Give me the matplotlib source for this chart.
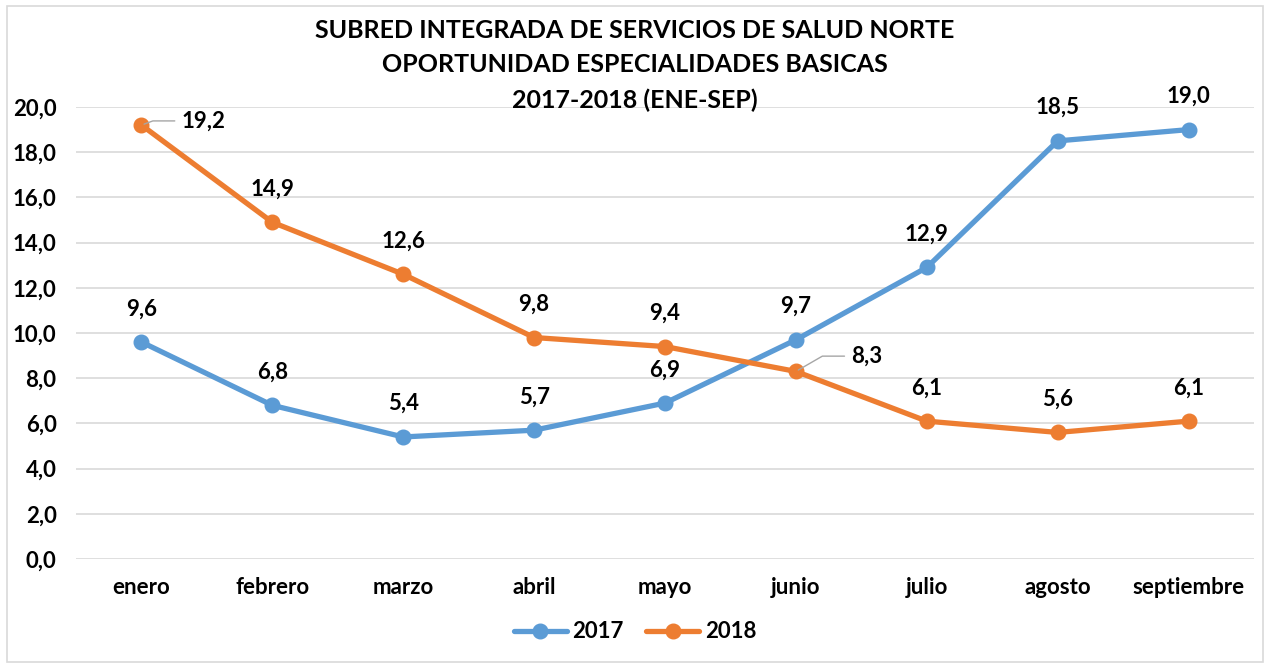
import matplotlib.pyplot as plt
from matplotlib.patches import Rectangle

meses = ['enero', 'febrero', 'marzo', 'abril', 'mayo', 'junio', 'julio', 'agosto', 'septiembre']
v2017 = [9.6, 6.8, 5.4, 5.7, 6.9, 9.7, 12.9, 18.5, 19.0]
v2018 = [19.2, 14.9, 12.6, 9.8, 9.4, 8.3, 6.1, 5.6, 6.1]
yticks = [0, 2, 4, 6, 8, 10, 12, 14, 16, 18, 20]

azul = '#5B9BD5'
naranja = '#ED7D31'
peso = 'bold'
fs = 16

plt.rcParams['font.family'] = ['Lato', 'DejaVu Sans']
plt.rcParams['font.weight'] = peso

fig = plt.figure(figsize=(12.7, 6.66), dpi=100)
fig.patches.append(Rectangle((7 / 1270, 4 / 666), 1256 / 1270, 656 / 666, transform=fig.transFigure,
                             fill=False, edgecolor='#D9D9D9', linewidth=1.2))
ax = fig.add_axes([76 / 1270, 1 - 559 / 666, 1178 / 1270, 452 / 666])

x = list(range(len(meses)))
ax.plot(x, v2017, color=azul, lw=3.8, marker='o', ms=10.5, label='2017', solid_capstyle='round', zorder=3)
ax.plot(x, v2018, color=naranja, lw=3.8, marker='o', ms=10.5, label='2018', solid_capstyle='round', zorder=3)

ax.set_xlim(-0.5, len(meses) - 0.5)
ax.set_ylim(0, 20)
ax.set_yticks(yticks)
ax.set_yticklabels([f'{t:.1f}'.replace('.', ',') for t in yticks], fontsize=fs, fontweight=peso)
ax.set_xticks(x)
ax.set_xticklabels(meses, fontsize=fs, fontweight=peso)
ax.tick_params(axis='y', length=0, pad=14)
ax.tick_params(axis='x', length=0, pad=13)
ax.grid(axis='y', color='#D9D9D9', lw=1.2)
ax.set_axisbelow(True)
for s in ax.spines.values():
    s.set_visible(False)

def etiqueta(v):
    return f'{v:.1f}'.replace('.', ',')

for i, v in enumerate(v2017):
    ax.annotate(etiqueta(v), (i, v), xytext=(0, 24), textcoords='offset points',
                ha='center', va='center', fontsize=fs, fontweight=peso, annotation_clip=False)

for i, v in enumerate(v2018):
    if i == 0:
        ax.annotate(etiqueta(v), (i, v), xytext=(29, 3), textcoords='offset points',
                    ha='left', va='center', fontsize=fs, fontweight=peso,
                    arrowprops=dict(arrowstyle='-', color='#A6A6A6', lw=1,
                                    connectionstyle='angle,angleA=0,angleB=20,rad=0',
                                    shrinkA=3, shrinkB=2))
    elif i == 5:
        ax.annotate(etiqueta(v), (i, v), xytext=(40, 11), textcoords='offset points',
                    ha='left', va='center', fontsize=fs, fontweight=peso,
                    arrowprops=dict(arrowstyle='-', color='#A6A6A6', lw=1,
                                    connectionstyle='angle,angleA=0,angleB=30,rad=0',
                                    shrinkA=3, shrinkB=2))
    else:
        ax.annotate(etiqueta(v), (i, v), xytext=(0, 24), textcoords='offset points',
                    ha='center', va='center', fontsize=fs, fontweight=peso, annotation_clip=False)

fig.text(0.5, 1 - 31 / 666, 'SUBRED INTEGRADA DE SERVICIOS DE SALUD NORTE', ha='center', va='center',
         fontsize=18, fontweight=peso)
fig.text(0.5, 1 - 65 / 666, 'OPORTUNIDAD ESPECIALIDADES BASICAS', ha='center', va='center',
         fontsize=18, fontweight=peso)
fig.text(0.5, 1 - 100 / 666, '2017-2018 (ENE-SEP)', ha='center', va='center',
         fontsize=18, fontweight=peso)

fig.legend(loc='center', bbox_to_anchor=(0.5, 1 - 632 / 666), ncol=2, frameon=False,
           fontsize=fs, handlelength=2.4, columnspacing=1.0, handletextpad=0.25)

fig.savefig('out.png', dpi=100)
